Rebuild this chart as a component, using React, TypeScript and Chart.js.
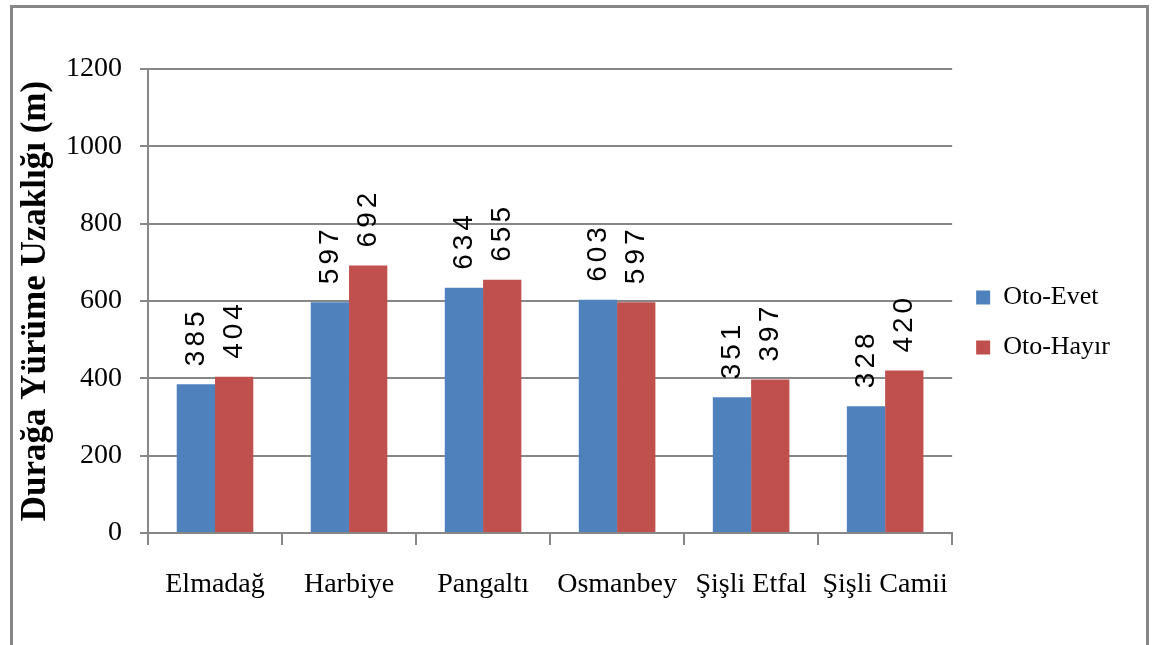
import React, { useEffect, useRef } from "react";
import { Chart, registerables } from "chart.js";

Chart.register(...registerables);

const categories = ["Elmadağ", "Harbiye", "Pangaltı", "Osmanbey", "Şişli Etfal", "Şişli Camii"];
const otoEvet = [385, 597, 634, 603, 351, 328];
const otoHayir = [404, 692, 655, 597, 397, 420];
const seriesNames = ["Oto-Evet", "Oto-Hayır"];
const seriesColors = ["#4F81BD", "#C0504D"];
const yTitle = "Durağa Yürüme Uzaklığı (m)";
const yMin = 0;
const yMax = 1200;
const yStep = 200;

const SERIF = "'Liberation Serif', 'Times New Roman', serif";
const GRID = "#878787";

const framePlugin = {
  id: "frame",
  beforeDraw(chart: any) {
    const { ctx, width, height } = chart;
    ctx.save();
    ctx.fillStyle = "#ffffff";
    ctx.fillRect(0, 0, width, height);
    ctx.strokeStyle = "#878787";
    ctx.lineWidth = 3;
    ctx.strokeRect(11.5, 6.5, 1136, height + 20);
    ctx.restore();
  },
};

const valueLabelPlugin = {
  id: "valueLabels",
  afterDatasetsDraw(chart: any) {
    const { ctx } = chart;
    ctx.save();
    ctx.font = "28px 'Liberation Sans', Arial, sans-serif";
    ctx.fillStyle = "#000000";
    (ctx as any).letterSpacing = "4px";
    ctx.textAlign = "left";
    ctx.textBaseline = "middle";
    chart.data.datasets.forEach((ds: any, di: number) => {
      const meta = chart.getDatasetMeta(di);
      meta.data.forEach((el: any, i: number) => {
        ctx.save();
        ctx.translate(el.x, el.y - 18);
        ctx.rotate(-Math.PI / 2);
        ctx.fillText(String(ds.data[i]), 0, 0);
        ctx.restore();
      });
    });
    ctx.restore();
  },
};

export default function App() {
  const ref = useRef<HTMLCanvasElement | null>(null);

  useEffect(() => {
    if (!ref.current) return;
    const chart = new Chart(ref.current, {
      type: "bar",
      data: {
        labels: categories,
        datasets: [
          { label: seriesNames[0], data: otoEvet, backgroundColor: seriesColors[0], borderWidth: 0 },
          { label: seriesNames[1], data: otoHayir, backgroundColor: seriesColors[1], borderWidth: 0 },
        ],
      },
      options: {
        responsive: false,
        animation: false,
        events: [],
        layout: { padding: { left: 0, right: 33, top: 0, bottom: 0 } },
        datasets: {
          bar: { categoryPercentage: 2 / 3.5, barPercentage: 1 },
        },
        plugins: {
          title: {
            display: true,
            text: " ",
            font: { size: 10, lineHeight: 1 },
            padding: { top: 59, bottom: 0 },
          },
          tooltip: { enabled: false },
          legend: {
            position: "right",
            align: "center",
            labels: {
              boxWidth: 14,
              boxHeight: 14,
              padding: 24,
              color: "#000000",
              font: { family: SERIF, size: 26 },
            },
          },
        },
        scales: {
          x: {
            afterFit: (s: any) => {
              s.height = 112;
            },
            grid: {
              offset: true,
              drawOnChartArea: false,
              drawTicks: true,
              tickLength: 12,
              color: GRID,
              lineWidth: 2,
            },
            border: { color: GRID, width: 2 },
            ticks: {
              color: "#000000",
              font: { family: SERIF, size: 28 },
              padding: 23,
              maxRotation: 0,
              autoSkip: false,
            },
          },
          y: {
            min: yMin,
            max: yMax,
            afterFit: (s: any) => {
              s.width = 148;
            },
            ticks: {
              stepSize: yStep,
              color: "#000000",
              font: { family: SERIF, size: 28 },
              padding: 18,
              callback: (v: any) => String(v),
            },
            grid: { color: GRID, lineWidth: 2, tickLength: 8 },
            border: { color: GRID, width: 2 },
            title: {
              display: true,
              text: yTitle,
              color: "#000000",
              font: { family: SERIF, size: 35, weight: "bold" },
              padding: { top: 15, bottom: 0 },
            },
          },
        },
      },
      plugins: [framePlugin, valueLabelPlugin],
    });
    return () => chart.destroy();
  }, []);

  return (
    <div style={{ position: "absolute", left: 0, top: 0, width: 1153, height: 645, background: "#fff" }}>
      <canvas ref={ref} width={1153} height={645} />
    </div>
  );
}
